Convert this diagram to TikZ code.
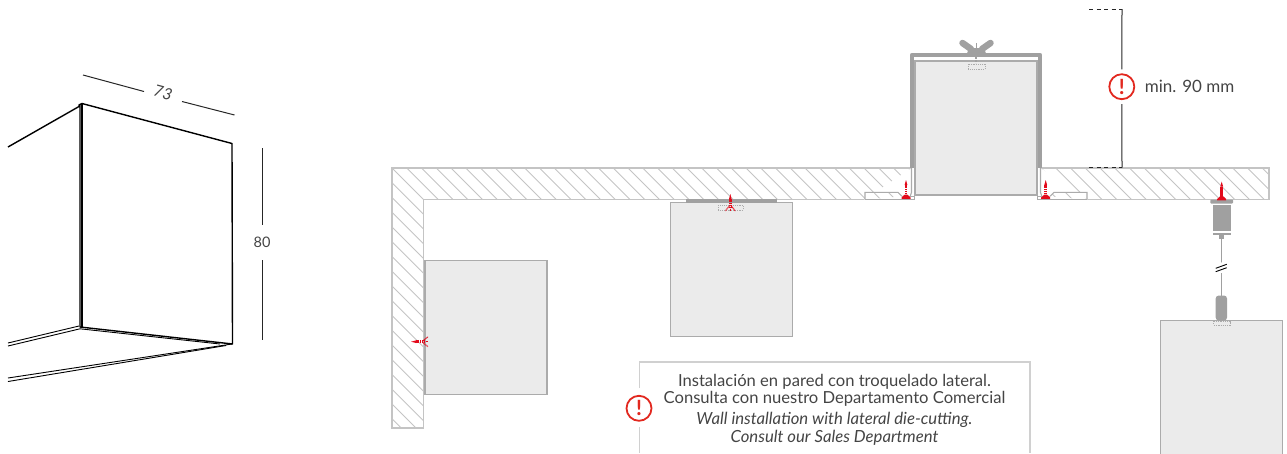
\documentclass[tikz,border=0pt]{standalone}
\usepackage{fontspec}
\setmainfont{Lato}
\usetikzlibrary{positioning}

\definecolor{wallgray}{HTML}{C4C4C4}
\definecolor{boxfill}{HTML}{EBEBEB}
\definecolor{boxline}{HTML}{ABABAB}
\definecolor{metal}{HTML}{A0A0A0}
\definecolor{warnred}{HTML}{E2281F}
\definecolor{screwred}{HTML}{E30A1B}
\definecolor{textgray}{HTML}{444444}

\tikzset{
  wallline/.style={draw=wallgray, line width=1.2pt},
  hatchline/.style={draw=wallgray, line width=0.8pt},
  furniture/.style={draw=boxline, fill=boxfill, line width=1.2pt},
  dotbox/.style={draw=boxline, line width=0.7pt, dash pattern=on 1.2pt off 1pt},
  metalpart/.style={fill=metal, draw=none},
  cubeline/.style={draw=black, line width=1.4pt, line join=round},
  cubethin/.style={draw=black, line width=0.9pt},
  dimline/.style={draw=black!85, line width=1pt},
  plate/.style={draw=boxline, fill=white, line width=1.1pt},
  txt/.style={text=textgray, inner sep=0pt},
  warnsign/.style={circle, draw=warnred, fill=white, line width=1.8pt, minimum size=25pt,
    inner sep=0pt, text=warnred, font=\fontsize{21}{21}\selectfont\bfseries},
  screwup/.pic={
    \fill[screwred] (-1.4,-13) -- (0,-18) -- (1.4,-13) -- cycle;
    \draw[screwred, line width=2.8pt, dash pattern=on 1.5pt off 0.4pt] (0,-13) -- (0,-3);
    \fill[screwred] (-1.2,-3.5) -- (1.2,-3.5) -- (4.5,-0.5) -- (4.5,0.8) -- (-4.5,0.8) -- (-4.5,-0.5) -- cycle;
  },
  screwflared/.pic={
    \fill[screwred] (-1.3,-11) -- (0,-16) -- (1.3,-11) -- cycle;
    \draw[screwred, line width=2.8pt, dash pattern=on 1.5pt off 0.4pt] (0,-11) -- (0,-3);
    \draw[screwred, line width=1.1pt, dash pattern=on 1pt off 0.6pt] (-1,-4) -- (-5,1);
    \draw[screwred, line width=1.1pt, dash pattern=on 1pt off 0.6pt] (1,-4) -- (5,1);
    \draw[screwred, line width=1.1pt, dash pattern=on 1pt off 0.6pt] (0,-3) -- (0,1);
  },
}

\begin{document}
\begin{tikzpicture}[x=1pt, y=-1pt]
\useasboundingbox (0,0) rectangle (1287,453);

% cube
\draw[cubeline] (8,147) -- (79,106.5) -- (79,105) -- (82,103.5) -- (232,143.5) -- (232.5,344) -- (80,327) -- (80,105);
\draw[cubeline] (81.8,104) -- (81.8,327);
\draw[cubethin] (8,343) -- (79,326);
\draw[cubethin] (8,346) -- (80,328.8) -- (220,344);
\draw[cubethin] (8,378) -- (232,344);
\draw[cubethin] (8,381.5) -- (226,345.5);

% cube dimensions
\node[txt, rotate=-15, font=\fontsize{16}{16}\selectfont\itshape] (dimwidth) at (163,92.5) {73};
\node[txt, font=\fontsize{14.5}{14.5}\selectfont] (dimheight) at (262,242) {80};
\coordinate (widthleft) at (83,75);
\coordinate (widthright) at (234.5,115);
\coordinate (heighttop) at (262,148);
\coordinate (heightbot) at (262,340);
\draw[dimline] (widthleft) -- (144,91.5);
\draw[dimline] (182,101.5) -- (widthright);
\draw[dimline] (heighttop) -- (dimheight.north |- 0,225);
\draw[dimline] (dimheight.south |- 0,260) -- (heightbot);

% wall and ceiling
\begin{scope}
  \clip (392,168) rectangle (911.5,199.5) (1040.5,168) rectangle (1269,199.5) (392,199.5) rectangle (423.5,428);
  \foreach \k in {-20,...,60}{
    \pgfmathsetmacro{\c}{238.7+14.75*\k}
    \draw[hatchline] ({\c+150},150) -- ({\c+440},440);
  }
\end{scope}
\draw[wallline] (911.5,168) -- (392,168) -- (392,428) -- (423.5,428) -- (423.5,199.5) -- (864,199.5);
\draw[wallline] (1040.5,168) -- (1269,168) -- (1269,199.5) -- (1088,199.5);

% furniture
\draw[furniture] (425,260.7) rectangle (547,394.3);
\draw[furniture] (670.3,202.5) rectangle (792.3,336.3);
\draw[furniture] (915,61) rectangle (1037,195);
\draw[furniture] (1160.3,320.7) rectangle (1282.5,460);

% flat bracket under the ceiling
\fill[metal] (685.7,199.3) rectangle (776.7,202.5);
\draw[dotbox] (718,205) rectangle (743,210);

% recessed plates
\draw[plate] (865,199.5) -- (865,192.3) -- (898,192.3) -- (902.7,197) -- (910,197) -- (911.5,192.3) -- (911.5,168);
\draw[plate] (865,199.5) -- (914.5,199.5) -- (914.5,196.5) -- (902.7,196.5);
\draw[plate] (1087,199.5) -- (1087,192.3) -- (1054,192.3) -- (1049.3,197) -- (1042,197) -- (1040.5,192.3) -- (1040.5,168);
\draw[plate] (1087,199.5) -- (1037.5,199.5) -- (1037.5,196.5) -- (1049.3,196.5);

% U frame with wing nut
\draw[metal, line width=3.6pt, line join=round] (911.8,168) -- (911.8,54.8) -- (1040.2,54.8) -- (1040.2,168);
\fill[white] (966,56.6) rectangle (987,60);
\draw[metal, line width=6.5pt, line cap=round] (962.5,43) -- (971,49);
\draw[metal, line width=6.5pt, line cap=round] (990.5,43) -- (982,49);
\fill[metalpart] (967,53.5) -- (969,48) -- (984,48) -- (986,53.5) -- cycle;
\draw[metal, line width=1pt] (976,43) -- (976,48);
\draw[metal, line width=1.2pt, dash pattern=on 1pt off 0.6pt] (976,55) -- (976,63);
\draw[dotbox] (968,64) rectangle (985,69);

% wire hanger
\fill[metalpart, rounded corners=1pt] (1210.3,199.5) rectangle (1233,203.7);
\fill[metalpart] (1212.7,204.5) rectangle (1230.7,231);
\fill[metalpart] (1212.7,232.5) rectangle (1230.7,235);
\fill[metalpart] (1219,235) rectangle (1224,238.5);
\fill[metalpart, rounded corners=3pt] (1215.7,295.5) rectangle (1227,320.5);
\draw[metal, line width=1.1pt] (1221.5,238) -- (1221.5,296);
\fill[white] (1215,264.8) -- (1227,260.5) -- (1227,271) -- (1215,275) -- cycle;
\draw[black, line width=0.9pt] (1215.7,268.3) -- (1226.7,264.3);
\draw[black, line width=0.9pt] (1215.7,271.7) -- (1226.7,267.7);
\draw[dotbox] (1213.5,321) rectangle (1230,325);

% screws
\pic at (906,198) {screwup};
\pic at (1045.7,198) {screwup};
\pic at (1221.7,199.5) {screwup};
\pic at (730.3,210) {screwflared};
\pic[rotate=90] at (427,341.7) {screwflared};

% clearance above the frame
\node[warnsign] (warnmin) at (1121.8,86.7) {!};
\node[txt, right=9.5pt of warnmin, font=\fontsize{17}{17}\selectfont] (mintext) {min. 90 mm};
\coordinate (cleartop) at (1122,9);
\coordinate (clearbot) at (1122,167.5);
\draw[dimline, shorten >=4pt] (cleartop) -- (warnmin);
\draw[dimline, shorten <=4pt] (warnmin) -- (clearbot);
\draw[dimline, dash pattern=on 4pt off 3.5pt] (1089,9) -- (cleartop);
\draw[dimline, dash pattern=on 4pt off 3.5pt] (1089,167.5) -- (clearbot);

% note
\draw[draw=wallgray!80, line width=1.3pt] (639.5,453) -- (639.5,427);
\draw[draw=wallgray!80, line width=1.3pt] (639.5,388) -- (639.5,362) -- (1030,362) -- (1030,453);
\node[warnsign] (warnnote) at (639,408.3) {!};
\node[txt, align=center, font=\fontsize{16.6}{17}\selectfont] (notees) at (834.5,390) {Instalación en pared con troquelado lateral.\\Consulta con nuestro Departamento Comercial};
\node[txt, align=center, font=\fontsize{16.7}{18}\selectfont\itshape] (noteen) at (834.5,429) {Wall installation with lateral die-cutting.\\Consult our Sales Department};

\end{tikzpicture}
\end{document}
